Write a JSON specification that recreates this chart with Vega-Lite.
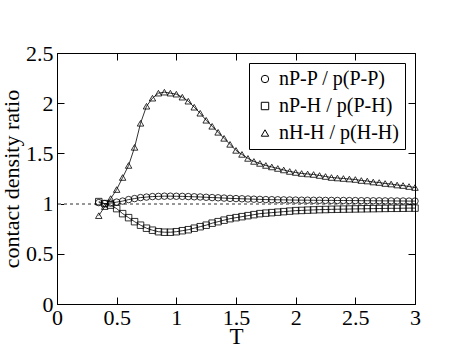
{
  "$schema": "https://vega.github.io/schema/vega-lite/v6.json",
  "width": 358,
  "height": 251,
  "autosize": "none",
  "padding": {"left": 57, "top": 53, "right": 48, "bottom": 54},
  "background": "white",
  "config": {
    "view": {"stroke": "black", "strokeWidth": 1},
    "font": "Liberation Serif",
    "axis": {"domainColor": "black", "tickColor": "black", "labelColor": "black", "titleColor": "black", "grid": false, "labelFont": "Liberation Serif", "titleFont": "Liberation Serif", "titleFontWeight": "normal", "labelFontSize": 21, "titleFontSize": 22, "labelFlush": false, "labelOverlap": false},
    "legend": {"labelFont": "Liberation Serif", "labelFontSize": 20, "labelColor": "black"}
  },
  "data": {"values": [
    {"T": 0.35, "pp": 1.01, "ph": 1.02, "hh": 0.88},
    {"T": 0.40, "pp": 1.00, "ph": 1.00, "hh": 0.97},
    {"T": 0.45, "pp": 1.005, "ph": 0.985, "hh": 1.05},
    {"T": 0.50, "pp": 1.015, "ph": 0.95, "hh": 1.14},
    {"T": 0.55, "pp": 1.025, "ph": 0.90, "hh": 1.26},
    {"T": 0.60, "pp": 1.04, "ph": 0.86, "hh": 1.38},
    {"T": 0.65, "pp": 1.05, "ph": 0.82, "hh": 1.56},
    {"T": 0.70, "pp": 1.06, "ph": 0.785, "hh": 1.80},
    {"T": 0.75, "pp": 1.065, "ph": 0.755, "hh": 1.97},
    {"T": 0.80, "pp": 1.07, "ph": 0.735, "hh": 2.05},
    {"T": 0.85, "pp": 1.072, "ph": 0.72, "hh": 2.10},
    {"T": 0.90, "pp": 1.074, "ph": 0.715, "hh": 2.11},
    {"T": 0.95, "pp": 1.074, "ph": 0.715, "hh": 2.10},
    {"T": 1.00, "pp": 1.073, "ph": 0.72, "hh": 2.09},
    {"T": 1.05, "pp": 1.072, "ph": 0.73, "hh": 2.06},
    {"T": 1.10, "pp": 1.07, "ph": 0.74, "hh": 2.02},
    {"T": 1.15, "pp": 1.068, "ph": 0.755, "hh": 1.96},
    {"T": 1.20, "pp": 1.066, "ph": 0.77, "hh": 1.90},
    {"T": 1.25, "pp": 1.063, "ph": 0.785, "hh": 1.83},
    {"T": 1.30, "pp": 1.06, "ph": 0.805, "hh": 1.77},
    {"T": 1.35, "pp": 1.058, "ph": 0.82, "hh": 1.71},
    {"T": 1.40, "pp": 1.055, "ph": 0.835, "hh": 1.65},
    {"T": 1.45, "pp": 1.052, "ph": 0.85, "hh": 1.59},
    {"T": 1.50, "pp": 1.05, "ph": 0.86, "hh": 1.53},
    {"T": 1.55, "pp": 1.048, "ph": 0.87, "hh": 1.49},
    {"T": 1.60, "pp": 1.046, "ph": 0.88, "hh": 1.45},
    {"T": 1.65, "pp": 1.044, "ph": 0.89, "hh": 1.42},
    {"T": 1.70, "pp": 1.042, "ph": 0.90, "hh": 1.40},
    {"T": 1.75, "pp": 1.04, "ph": 0.905, "hh": 1.38},
    {"T": 1.80, "pp": 1.039, "ph": 0.91, "hh": 1.365},
    {"T": 1.85, "pp": 1.038, "ph": 0.915, "hh": 1.35},
    {"T": 1.90, "pp": 1.037, "ph": 0.92, "hh": 1.335},
    {"T": 1.95, "pp": 1.036, "ph": 0.925, "hh": 1.32},
    {"T": 2.00, "pp": 1.035, "ph": 0.93, "hh": 1.31},
    {"T": 2.05, "pp": 1.034, "ph": 0.932, "hh": 1.30},
    {"T": 2.10, "pp": 1.034, "ph": 0.935, "hh": 1.295},
    {"T": 2.15, "pp": 1.033, "ph": 0.937, "hh": 1.29},
    {"T": 2.20, "pp": 1.033, "ph": 0.94, "hh": 1.28},
    {"T": 2.25, "pp": 1.032, "ph": 0.941, "hh": 1.27},
    {"T": 2.30, "pp": 1.032, "ph": 0.943, "hh": 1.26},
    {"T": 2.35, "pp": 1.031, "ph": 0.944, "hh": 1.255},
    {"T": 2.40, "pp": 1.031, "ph": 0.945, "hh": 1.25},
    {"T": 2.45, "pp": 1.03, "ph": 0.946, "hh": 1.245},
    {"T": 2.50, "pp": 1.03, "ph": 0.947, "hh": 1.24},
    {"T": 2.55, "pp": 1.029, "ph": 0.948, "hh": 1.23},
    {"T": 2.60, "pp": 1.029, "ph": 0.949, "hh": 1.225},
    {"T": 2.65, "pp": 1.028, "ph": 0.95, "hh": 1.215},
    {"T": 2.70, "pp": 1.028, "ph": 0.951, "hh": 1.21},
    {"T": 2.75, "pp": 1.027, "ph": 0.952, "hh": 1.20},
    {"T": 2.80, "pp": 1.027, "ph": 0.953, "hh": 1.195},
    {"T": 2.85, "pp": 1.026, "ph": 0.953, "hh": 1.185},
    {"T": 2.90, "pp": 1.026, "ph": 0.954, "hh": 1.18},
    {"T": 2.95, "pp": 1.025, "ph": 0.955, "hh": 1.17},
    {"T": 3.00, "pp": 1.025, "ph": 0.955, "hh": 1.16}
  ]},
  "transform": [{"fold": ["pp", "ph", "hh"], "as": ["key", "value"]}],
  "resolve": {"axis": {"x": "independent", "y": "independent"}},
  "layer": [
    {
      "mark": {"type": "rule", "strokeDash": [3, 3], "color": "#999", "strokeWidth": 1},
      "encoding": {"y": {"datum": 1, "type": "quantitative", "scale": {"domain": [0, 2.5]}, "axis": null}}
    },
    {
      "mark": {"type": "line", "color": "black", "strokeWidth": 0.8},
      "encoding": {
        "x": {"field": "T", "type": "quantitative", "scale": {"domain": [0, 3], "nice": false}, "title": "T",
          "axis": {"orient": "bottom", "tickValues": [0, 0.25, 0.5, 0.75, 1, 1.25, 1.5, 1.75, 2, 2.25, 2.5, 2.75, 3],
            "labelExpr": "datum.value % 0.5 === 0 ? format(datum.value, '~g') : ''",
            "labelFont": "Liberation Serif", "labelFontSize": 22, "titleFont": "Liberation Serif", "titleFontSize": 23,
            "tickSize": {"condition": {"test": "datum.value % 0.5 === 0", "value": -7}, "value": -4},
            "labelPadding": 10, "titlePadding": -3}},
        "y": {"field": "value", "type": "quantitative", "scale": {"domain": [0, 2.5], "nice": false}, "title": "contact density ratio",
          "axis": {"orient": "left", "tickValues": [0, 0.25, 0.5, 0.75, 1, 1.25, 1.5, 1.75, 2, 2.25, 2.5],
            "labelExpr": "datum.value % 0.5 === 0 ? format(datum.value, '~g') : ''",
            "labelFont": "Liberation Serif", "labelFontSize": 22, "titleFont": "Liberation Serif", "titleFontSize": 22,
            "tickSize": {"condition": {"test": "datum.value % 0.5 === 0", "value": -7}, "value": -4},
            "labelPadding": 11, "titlePadding": 2}},
        "detail": {"field": "key"}
      }
    },
    {
      "mark": {"type": "point", "filled": false, "stroke": "black", "strokeWidth": 0.8, "size": 42, "opacity": 1},
      "encoding": {
        "x": {"field": "T", "type": "quantitative", "scale": {"domain": [0, 3], "nice": false},
          "axis": {"orient": "top", "tickValues": [0, 0.25, 0.5, 0.75, 1, 1.25, 1.5, 1.75, 2, 2.25, 2.5, 2.75, 3], "labels": false, "title": null, "domain": false,
            "tickSize": {"condition": {"test": "datum.value % 0.5 === 0", "value": -7}, "value": -4}}},
        "y": {"field": "value", "type": "quantitative", "scale": {"domain": [0, 2.5], "nice": false},
          "axis": {"orient": "right", "tickValues": [0, 0.25, 0.5, 0.75, 1, 1.25, 1.5, 1.75, 2, 2.25, 2.5], "labels": false, "title": null, "domain": false,
            "tickSize": {"condition": {"test": "datum.value % 0.5 === 0", "value": -7}, "value": -4}}},
        "shape": {"field": "key", "type": "nominal",
          "scale": {"domain": ["pp", "ph", "hh"], "range": ["circle", "square", "triangle-up"]},
          "legend": {"title": null, "orient": "top-right", "offset": 10, "strokeColor": "black", "fillColor": "white", "padding": 6, "rowPadding": 7,
            "labelFont": "Liberation Serif", "labelFontSize": 20,
            "symbolStrokeColor": "black", "symbolFillColor": "transparent", "symbolSize": 55, "symbolStrokeWidth": 1,
            "labelExpr": "datum.value === 'pp' ? 'nP-P / p(P-P)' : datum.value === 'ph' ? 'nP-H / p(P-H)' : 'nH-H / p(H-H)'"}}
      }
    }
  ]
}
